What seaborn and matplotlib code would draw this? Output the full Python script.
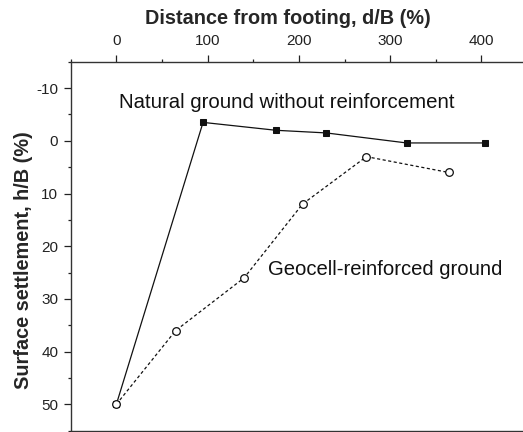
import numpy as np
import pandas as pd
import seaborn as sns
import matplotlib.pyplot as plt
from matplotlib.ticker import MultipleLocator

# natural ground (no reinforcement)
nat_x = [0, 95, 175, 230, 318, 404]
nat_y = [50, -3.5, -2.0, -1.5, 0.4, 0.4]

# geocell-reinforced ground
geo_x = [0, 65, 140, 204, 274, 364]
geo_y = [50, 36, 26, 12, 3, 6]

sns.set_style("ticks")
plt.rcParams['font.family'] = ['Liberation Sans', 'DejaVu Sans']
plt.rcParams['axes.unicode_minus'] = False

fig = plt.figure(figsize=(5.23, 4.32), dpi=100)
ax = fig.add_axes([0.1352, 0.003, 0.89, 0.854])

df_nat = pd.DataFrame({"d": nat_x, "h": nat_y})
df_geo = pd.DataFrame({"d": geo_x, "h": geo_y})

sns.lineplot(data=df_nat, x="d", y="h", ax=ax, color="#111111", lw=0.9,
             marker="s", markersize=5, markerfacecolor="#111111",
             markeredgecolor="#111111", sort=False, zorder=3)
sns.lineplot(data=df_geo, x="d", y="h", ax=ax, color="#111111", lw=0.9,
             linestyle=(0, (2.5, 2)), marker="o", markersize=5.5,
             markerfacecolor="white", markeredgecolor="#111111",
             markeredgewidth=0.9, sort=False, zorder=4)

ax.set_xlim(-50, 460)
ax.set_ylim(55, -15)

ax.xaxis.tick_top()
ax.xaxis.set_label_position("top")
ax.xaxis.set_minor_locator(MultipleLocator(50))
ax.yaxis.set_minor_locator(MultipleLocator(5))
ax.set_xticks([0, 100, 200, 300, 400])
ax.set_yticks([-10, 0, 10, 20, 30, 40, 50])

ax.tick_params(axis="x", which="major", direction="out", length=5, width=0.9,
               pad=5, labelsize=11, colors="#222222", top=True, bottom=True)
ax.tick_params(axis="x", which="minor", direction="out", length=2.5, width=0.9,
               top=True, bottom=True, colors="#222222")
ax.tick_params(axis="y", which="major", direction="out", length=5, width=0.9,
               pad=4, labelsize=11, colors="#222222")
ax.tick_params(axis="y", which="minor", direction="out", length=2.5, width=0.9,
               colors="#222222")

for s in ["top", "left", "bottom", "right"]:
    ax.spines[s].set_color("#333333")
    ax.spines[s].set_linewidth(1.0)

ax.set_xlabel("Distance from footing, d/B (%)", fontsize=14.3,
              fontweight="bold", labelpad=7)
ax.set_ylabel("Surface settlement, h/B (%)", fontsize=14.3,
              fontweight="bold", labelpad=2.5)
ax.xaxis.label.set_x(0.466)
ax.yaxis.label.set_y(0.463)

ax.text(3, -7.2, "Natural ground without reinforcement", fontsize=14.7,
        va="center", ha="left", color="#111111")
ax.text(166, 24.5, "Geocell-reinforced ground", fontsize=14.6,
        va="center", ha="left", color="#111111")

fig.savefig("out.png", dpi=100)
